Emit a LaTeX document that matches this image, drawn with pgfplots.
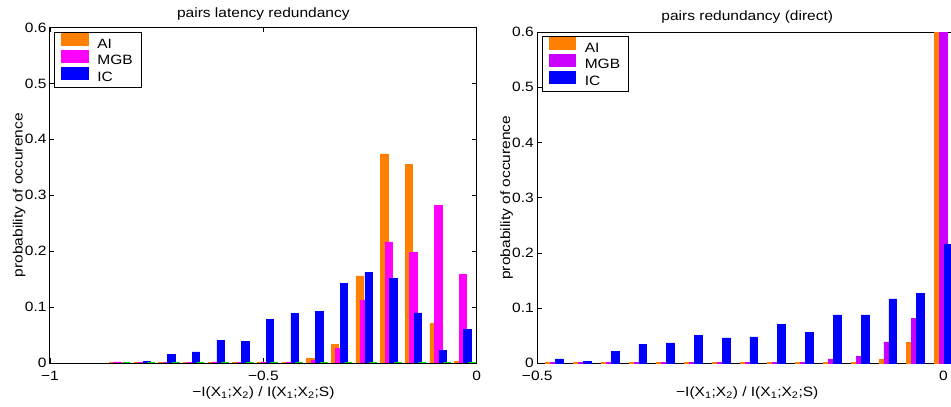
\documentclass[border=0pt]{standalone}
\usepackage{fontspec}
\setmainfont{Liberation Sans}[FakeStretch=1.15]
\usepackage{pgfplots}
\usepackage{pgfplotstable}
\pgfplotsset{compat=1.18}

\definecolor{aiorange}{RGB}{255,128,0}
\definecolor{mgbmag}{RGB}{255,0,255}
\definecolor{mgbpurple}{RGB}{204,0,255}
\definecolor{icblue}{RGB}{0,0,255}
\definecolor{zgreen}{RGB}{0,210,0}

\newcommand\chartfont{\fontsize{13.5bp}{16bp}\selectfont}

% histogram of -I(X1;X2)/I(X1;X2;S), latency code
\pgfplotstableread{
x        AI     MGB     IC      Z
-0.8366  0.001  0.002   0.000   0
-0.7788  0.001  0.001   0.003   0
-0.7210  0.001  0.001   0.015   0
-0.6632  0.001  0.001   0.020   0
-0.6054  0.001  0.002   0.041   0
-0.5476  0.001  0.001   0.039   0
-0.4898  0.002  0.001   0.078   0
-0.4320  0.001  0.002   0.089   0
-0.3742  0.008  0.005   0.092   0
-0.3164  0.033  0.026   0.1425  0
-0.2586  0.156  0.113   0.162   0
-0.2008  0.374  0.2165  0.152   0
-0.1430  0.355  0.198   0.0895  0
-0.0852  0.071  0.282   0.022   0
-0.0274  0.004  0.158   0.060   0
}\latencytable

% histogram of -I(X1;X2)/I(X1;X2;S), direct code
\pgfplotstableread{
x        AI     MGB     IC
-0.4791  0.001  0.001   0.0078
-0.4449  0.001  0.001   0.003
-0.4106  0.001  0.001   0.022
-0.3764  0.001  0.001   0.034
-0.3422  0.001  0.001   0.037
-0.3080  0.001  0.001   0.051
-0.2738  0.001  0.001   0.046
-0.2395  0.001  0.001   0.048
-0.2053  0.001  0.001   0.0706
-0.1711  0.001  0.001   0.056
-0.1369  0.002  0.008   0.0875
-0.1027  0.002  0.013   0.0875
-0.0684  0.007  0.0386  0.1165
-0.0342  0.038  0.082   0.126
 0.0000  0.750  0.700   0.215
}\directtable

\pgfplotsset{
  swatch/.style={legend image code/.code={%
      \fill[##1] (0bp,-1bp) rectangle (26.7bp,11bp);
      \path (33.7bp,0bp);}},
  histo/.style={
    scale only axis, anchor=south west,
    ymin=0, ymax=0.6,
    ytick={0,0.1,0.2,0.3,0.4,0.5,0.6},
    yticklabels={0,0.1,0.2,0.3,0.4,0.5,0.6},
    tick align=inside, major tick length=4.5bp,
    tick style={black, line width=0.6bp},
    axis line style={black, line width=1bp},
    every tick label/.append style={font=\chartfont},
    yticklabel style={anchor=east, inner sep=0pt, xshift=-3.3bp},
    xticklabel style={anchor=base, inner sep=0pt, yshift=-17bp},
    label style={font=\chartfont},
    title style={font=\chartfont, at={(axis description cs:0.5,1)}, anchor=base},
    xlabel style={at={(axis description cs:0.5,0)}, anchor=base, yshift=-33bp},
    xlabel={−I(X\textsubscript{1};X\textsubscript{2}) / I(X\textsubscript{1};X\textsubscript{2};S)},
    ylabel={probability of occurence},
    legend cell align=left,
    legend style={anchor=north west, draw=black, line width=0.8bp,
      inner xsep=6.5bp, inner ysep=1bp, row sep=-3bp, font=\chartfont,
      nodes={inner sep=2bp, text height=10bp, text depth=3bp}},
  },
}

\begin{document}
\begin{tikzpicture}
% left panel
\begin{axis}[histo,
  at={(50bp,44bp)}, width=426.7bp, height=335.5bp,
  xmin=-1, xmax=0,
  xtick={-1,-0.5,0}, xticklabels={−1,−0.5,0},
  title={pairs latency redundancy},
  title style={yshift=4bp},
  ylabel style={at={(axis description cs:-0.064,0.5)}, anchor=base},
  legend style={at={(0.01,0.987)}},
]
\addplot[ybar, bar width=7.5bp, bar shift=-6.75bp, fill=aiorange, draw=aiorange, line width=0.5bp, swatch]
  table[x=x, y=AI] {\latencytable};
\addplot[ybar, bar width=7.5bp, bar shift=-2.25bp, fill=mgbmag, draw=mgbmag, line width=0.5bp, swatch]
  table[x=x, y=MGB] {\latencytable};
\addplot[ybar, bar width=7.5bp, bar shift=2.25bp, fill=icblue, draw=icblue, line width=0.5bp, swatch]
  table[x=x, y=IC] {\latencytable};
\addplot[ybar, bar width=7.5bp, bar shift=6.75bp, fill=zgreen, draw=zgreen, line width=1.2bp, forget plot]
  table[x=x, y=Z] {\latencytable};
\legend{AI,MGB,IC}
\end{axis}

% right panel
\begin{axis}[histo,
  at={(537.3bp,43.7bp)}, width=419.9bp, height=331.3bp,
  xmin=-0.5, xmax=0.0171,
  xtick={-0.5,0}, xticklabels={−0.5,0},
  title={pairs redundancy (direct)},
  title style={yshift=5.5bp},
  ylabel style={at={(axis description cs:-0.065,0.5)}, anchor=base},
  legend style={at={(0.0105,0.988)}},
]
\addplot[ybar, bar width=7.8bp, bar shift=-5bp, fill=aiorange, draw=aiorange, line width=0.5bp, swatch]
  table[x=x, y=AI] {\directtable};
\addplot[ybar, bar width=7.8bp, bar shift=0bp, fill=mgbpurple, draw=mgbpurple, line width=0.5bp, swatch]
  table[x=x, y=MGB] {\directtable};
\addplot[ybar, bar width=7.8bp, bar shift=5bp, fill=icblue, draw=icblue, line width=0.5bp, swatch]
  table[x=x, y=IC] {\directtable};
\legend{AI,MGB,IC}
\end{axis}

\pgfresetboundingbox
\path[use as bounding box] (0bp,0bp) rectangle (951bp,407bp);
\end{tikzpicture}
\end{document}
